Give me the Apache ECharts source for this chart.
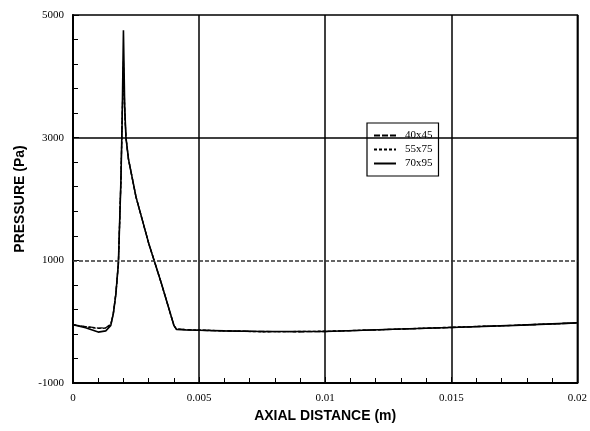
<!DOCTYPE html>
<html>
<head>
<meta charset="utf-8">
<script src="https://cdn.jsdelivr.net/npm/echarts@6/dist/echarts.min.js"></script>
<style>html,body{margin:0;padding:0;background:#fff}#c{width:590px;height:431px}</style>
</head>
<body>
<div id="c"></div>
<script>
// ---- data ----
const seriesNames = ['40x45', '55x75', '70x95'];
const xTickLabels = ['0', '0.005', '0.01', '0.015', '0.02'];
const yTickLabels = ['-1000', '1000', '3000', '5000'];

const x40 = [0, 0.0005, 0.001, 0.0013, 0.0015, 0.0016, 0.0017, 0.0018, 0.0019, 0.00195, 0.002, 0.00205, 0.0021, 0.0022, 0.0025, 0.003, 0.0035, 0.004, 0.0041, 0.0045, 0.005, 0.006, 0.0075, 0.009, 0.01, 0.0115, 0.013, 0.015, 0.0175, 0.02];
const y40 = [-50, -80, -105, -100, -40, 140, 460, 960, 2300, 3300, 4150, 3450, 3000, 2650, 2030, 1280, 630, -60, -120, -130, -140, -150, -160, -165, -160, -140, -120, -95, -60, -20];

const x55 = [0, 0.0005, 0.001, 0.0013, 0.0015, 0.0016, 0.0017, 0.0018, 0.0019, 0.00195, 0.002, 0.00205, 0.0021, 0.0022, 0.0025, 0.003, 0.0035, 0.004, 0.0041, 0.0045, 0.005, 0.006, 0.0075, 0.009, 0.01, 0.0115, 0.013, 0.015, 0.0175, 0.02];
const y55 = [-50, -85, -110, -105, -45, 135, 455, 950, 2300, 3300, 4250, 3480, 3000, 2650, 2030, 1280, 630, -60, -120, -130, -135, -150, -165, -160, -155, -140, -120, -90, -60, -20];

const x70 = [0, 0.0005, 0.001, 0.0013, 0.0015, 0.0016, 0.0017, 0.0018, 0.0019, 0.00195, 0.002, 0.00205, 0.0021, 0.0022, 0.0025, 0.003, 0.0035, 0.004, 0.0041, 0.0045, 0.005, 0.006, 0.0075, 0.009, 0.01, 0.0115, 0.013, 0.015, 0.0175, 0.02];
const y70 = [-50, -100, -170, -150, -60, 130, 450, 950, 2300, 3300, 4750, 3500, 3000, 2650, 2030, 1280, 630, -60, -125, -135, -140, -150, -160, -160, -160, -140, -120, -95, -60, -20];

const hGridSolid = [3000];
const hGridDashed = [1000];

// ---- chart ----
const pair = (xs, ys) => xs.map((x, i) => [x, ys[i]]);
const serif = '"Liberation Serif", "DejaVu Serif", serif';
const sans = '"Liberation Sans", Arial, sans-serif';

const chart = echarts.init(document.getElementById('c'), null, {renderer: 'canvas'});

const gridLines = [];
hGridSolid.forEach(v => gridLines.push({yAxis: v, lineStyle: {color: '#000', width: 1.5, type: 'solid'}}));
hGridDashed.forEach(v => gridLines.push({yAxis: v, lineStyle: {color: '#333', width: 1.5, type: [4, 2]}}));

const lineTypes = [[6, 2], [3, 2], 'solid'];
const datas = [pair(x40, y40), pair(x55, y55), pair(x70, y70)];

const series = seriesNames.map((n, i) => ({
  name: n,
  type: 'line',
  data: datas[i],
  symbol: 'none',
  showSymbol: false,
  smooth: false,
  lineStyle: {color: '#000', width: i === 2 ? 1.6 : 1.3, type: lineTypes[i]},
  itemStyle: {color: '#000'},
  z: 3
}));
series[0].markLine = {
  silent: true, symbol: 'none', label: {show: false}, animation: false,
  data: gridLines
};

chart.setOption({
  animation: false,
  backgroundColor: '#fff',
  grid: {left: 73, right: 11, top: 15, bottom: 48, show: true, borderColor: '#000', borderWidth: 1.5, backgroundColor: 'transparent'},
  legend: {
    data: seriesNames,
    orient: 'vertical',
    left: 367, top: 123,
    backgroundColor: '#fff',
    borderColor: '#000', borderWidth: 1.2,
    padding: [7, 6, 7, 6],
    itemGap: 3,
    itemWidth: 22, itemHeight: 10,
    itemStyle: {opacity: 0},
    textStyle: {fontFamily: serif, fontSize: 11, color: '#000', padding: [0, 0, 0, 4]}
  },
  xAxis: {
    type: 'value', min: 0, max: 0.02, interval: 0.005,
    name: 'AXIAL DISTANCE (m)', nameLocation: 'middle', nameGap: 24,
    nameTextStyle: {fontFamily: sans, fontWeight: 'bold', fontSize: 14, color: '#000'},
    axisLine: {show: true, onZero: false, lineStyle: {color: '#000', width: 2}},
    axisTick: {show: true, inside: true, length: 6, lineStyle: {color: '#000'}},
    minorTick: {show: true, splitNumber: 5, length: 5, lineStyle: {color: '#000'}},
    splitLine: {show: true, lineStyle: {color: '#000', width: 1.5, type: 'solid'}},
    axisLabel: {margin: 10, fontFamily: serif, fontSize: 11, color: '#000',
      formatter: v => { const i = Math.round(v / 0.005); return xTickLabels[i] !== undefined ? xTickLabels[i] : ''; }}
  },
  yAxis: {
    type: 'value', min: -1000, max: 5000, interval: 2000,
    name: 'PRESSURE (Pa)', nameLocation: 'middle', nameGap: 37,
    nameTextStyle: {fontFamily: sans, fontWeight: 'bold', fontSize: 14, color: '#000'},
    axisLine: {show: true, onZero: false, lineStyle: {color: '#000', width: 2}},
    axisTick: {show: true, inside: true, length: 6, lineStyle: {color: '#000'}},
    minorTick: {show: true, splitNumber: 5, length: 5, lineStyle: {color: '#000'}},
    splitLine: {show: false},
    axisLabel: {margin: 9, fontFamily: serif, fontSize: 11, color: '#000',
      formatter: v => { const i = Math.round((v + 1000) / 2000); return yTickLabels[i] !== undefined ? yTickLabels[i] : ''; }}
  },
  series: series
});
</script>
</body>
</html>
